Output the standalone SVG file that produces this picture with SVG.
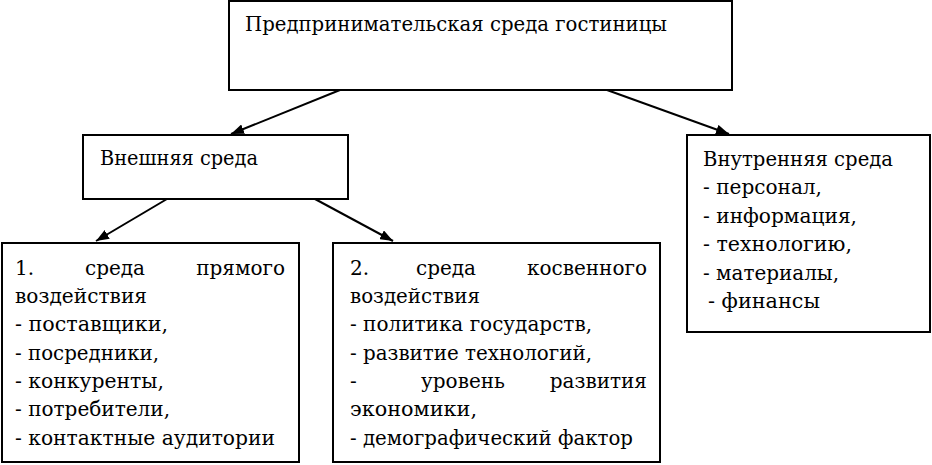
<svg xmlns="http://www.w3.org/2000/svg" width="932" height="465" viewBox="0 0 932 465">
<style>
.box{fill:#fff;stroke:#000;stroke-width:2}
.t{font-family:"DejaVu Serif","Liberation Serif",serif;font-size:20px;fill:#000}
.m{text-anchor:middle}
.e{text-anchor:end}
.c{stroke:#000;stroke-width:2;fill:none}
</style>
<defs>
<marker id="ah" viewBox="0 0 13 10" refX="13" refY="5" markerWidth="13" markerHeight="10" markerUnits="userSpaceOnUse" orient="auto">
<path d="M0,0 L13,5 L0,10 z" fill="#000"/>
</marker>
</defs>
<rect width="932" height="465" fill="#fff"/>
<g id="connectors">
<line class="c" x1="340" y1="90" x2="231" y2="134" marker-end="url(#ah)"/>
<line class="c" x1="607" y1="90" x2="729" y2="134" marker-end="url(#ah)"/>
<line class="c" x1="167" y1="199" x2="96" y2="241" marker-end="url(#ah)"/>
<line class="c" x1="315" y1="199" x2="393" y2="241" marker-end="url(#ah)"/>
</g>
<g id="top">
<rect class="box" x="229" y="1" width="503" height="89"/>
<text class="t" x="245" y="31" textLength="422" lengthAdjust="spacingAndGlyphs">Предпринимательская среда гостиницы</text>
</g>
<g id="external">
<rect class="box" x="83" y="135" width="265" height="64"/>
<text class="t" x="100" y="165" textLength="158" lengthAdjust="spacingAndGlyphs">Внешняя среда</text>
</g>
<g id="internal">
<rect class="box" x="687" y="135" width="243" height="197"/>
<text class="t" x="703" y="166" textLength="190" lengthAdjust="spacingAndGlyphs">Внутренняя среда</text>
<text class="t" x="703" y="194" textLength="119" lengthAdjust="spacingAndGlyphs">- персонал,</text>
<text class="t" x="703" y="223" textLength="154" lengthAdjust="spacingAndGlyphs">- информация,</text>
<text class="t" x="703" y="251" textLength="149" lengthAdjust="spacingAndGlyphs">- технологию,</text>
<text class="t" x="703" y="280" textLength="136" lengthAdjust="spacingAndGlyphs">- материалы,</text>
<text class="t" x="708" y="308" textLength="112" lengthAdjust="spacingAndGlyphs">- финансы</text>
</g>
<g id="direct">
<rect class="box" x="2" y="243" width="297" height="219"/>
<text class="t" x="15" y="275">1.</text>
<text class="t m" x="115" y="275">среда</text>
<text class="t e" x="285" y="275">прямого</text>
<text class="t" x="15" y="303" textLength="132" lengthAdjust="spacingAndGlyphs">воздействия</text>
<text class="t" x="15" y="331" textLength="153" lengthAdjust="spacingAndGlyphs">- поставщики,</text>
<text class="t" x="15" y="360" textLength="144" lengthAdjust="spacingAndGlyphs">- посредники,</text>
<text class="t" x="15" y="388" textLength="149" lengthAdjust="spacingAndGlyphs">- конкуренты,</text>
<text class="t" x="15" y="416" textLength="155" lengthAdjust="spacingAndGlyphs">- потребители,</text>
<text class="t" x="15" y="445" textLength="260" lengthAdjust="spacingAndGlyphs">- контактные аудитории</text>
</g>
<g id="indirect">
<rect class="box" x="333" y="243" width="327" height="219"/>
<text class="t" x="350" y="275">2.</text>
<text class="t m" x="446" y="275">среда</text>
<text class="t e" x="647" y="275">косвенного</text>
<text class="t" x="350" y="303" textLength="130" lengthAdjust="spacingAndGlyphs">воздействия</text>
<text class="t" x="350" y="331" textLength="242" lengthAdjust="spacingAndGlyphs">- политика государств,</text>
<text class="t" x="350" y="360" textLength="242" lengthAdjust="spacingAndGlyphs">- развитие технологий,</text>
<text class="t" x="350" y="388">-</text>
<text class="t m" x="463" y="388">уровень</text>
<text class="t e" x="647" y="388">развития</text>
<text class="t" x="350" y="416" textLength="127" lengthAdjust="spacingAndGlyphs">экономики,</text>
<text class="t" x="350" y="445" textLength="283" lengthAdjust="spacingAndGlyphs">- демографический фактор</text>
</g>
</svg>
